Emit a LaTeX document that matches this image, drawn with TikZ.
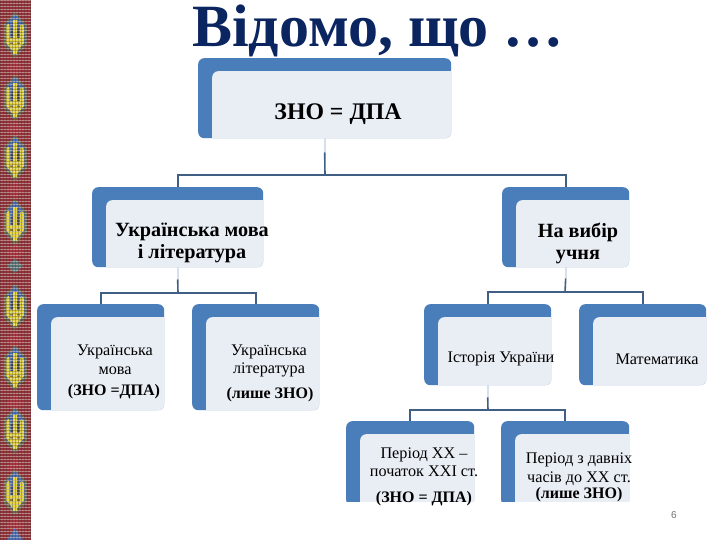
\documentclass[tikz,border=0pt]{standalone}
\usepackage{fontspec}
\setmainfont{Liberation Serif}
\newfontfamily\numfont{Liberation Sans}
\definecolor{cardblue}{HTML}{4A7EBB}
\definecolor{cardpale}{HTML}{E9EDF4}
\definecolor{linkdark}{HTML}{3F5F85}
\definecolor{linkpale}{HTML}{D5E0EC}
\definecolor{titleblue}{HTML}{0B2560}
\definecolor{stripred}{HTML}{A8343F}
\definecolor{stripdark}{HTML}{3A2A2A}
\definecolor{stripgreen}{HTML}{5E7A55}
\definecolor{stripcream}{HTML}{EADFD2}
\definecolor{tridentblue}{HTML}{4A6FB5}
\definecolor{tridentyellow}{HTML}{E6D83C}
\tikzset{
  cardbox/.style={rectangle,draw=none,fill=cardblue,rounded corners=6pt,inner sep=0pt,anchor=north west,
    path picture={\fill[cardpale,rounded corners=6pt]
      ([xshift=14pt,yshift=-13pt]path picture bounding box.north west) rectangle
      ([xshift=20pt,yshift=-20pt]path picture bounding box.south east);}},
  plaintext/.style={align=center,font=\fontsize{16.2}{18.5}\selectfont,text=black,inner sep=0pt},
  boldtext/.style={align=center,font=\fontsize{16}{18}\selectfont\bfseries,text=black,inner sep=0pt},
  headtext/.style={align=center,font=\fontsize{20.2}{22}\selectfont\bfseries,text=black,inner sep=0pt},
  link/.style={draw=linkdark,line width=1.6pt},
  stem/.style={draw=linkpale,line width=1.6pt}
}
\newcommand{\trident}[1]{%
  \begin{scope}[shift={(15,#1)}]
    \fill[stripgreen,opacity=.75] (0,-23) -- (12,-10) -- (12,10) -- (0,23) -- (-12,10) -- (-12,-10) -- cycle;
    \fill[tridentblue] (0,-21) -- (10,-9) -- (10,8) -- (0,19) -- (-10,8) -- (-10,-9) -- cycle;
    % three prongs
    \fill[tridentyellow] (-1.6,-15) rectangle (1.6,19);
    \fill[tridentyellow] (-9,-9) -- (-6.5,-11) -- (-5,-9) -- (-5,6) -- (-9,6) -- cycle;
    \fill[tridentyellow] (9,-9) -- (6.5,-11) -- (5,-9) -- (5,6) -- (9,6) -- cycle;
    \fill[tridentyellow] (-9,3) -- (9,3) -- (9,8) -- (1.5,17) -- (-1.5,17) -- (-9,8) -- cycle;
    \fill[stripdark,opacity=.55] (-3.6,-6) rectangle (-2.4,3);
    \fill[stripdark,opacity=.55] (2.4,-6) rectangle (3.6,3);
    \fill[stripdark,opacity=.55] (-5,7) rectangle (-2,9);
    \fill[stripdark,opacity=.55] (2,7) rectangle (5,9);
    \foreach \yy in {-12,-9,...,15} {\fill[stripdark,opacity=.25] (-10,\yy) rectangle (10,\yy+.7);}
  \end{scope}}
\begin{document}
\begin{tikzpicture}[x=1pt,y=-1pt]
\useasboundingbox (0,0) rectangle (720,540);
\fill[white] (0,0) rectangle (720,540);
% woven strip
\fill[stripred!80!stripdark] (0,0) rectangle (31,540);
\foreach \c in {68,130,190,252,340,403,467,526} {\fill[stripred] (15,\c-9) -- (24,\c) -- (15,\c+9) -- (6,\c) -- cycle;}
\fill[stripgreen!60!tridentblue] (15,259) -- (23,266) -- (15,273) -- (7,266) -- cycle;
\foreach \t in {35,98,158,222,307,368,430,492} {\trident{\t}}
\fill[tridentblue] (15,528) -- (23,540) -- (7,540) -- cycle;
\foreach \i in {0,3,...,537} {\fill[stripcream,opacity=.5] (0,\i) rectangle (31,\i+1.3);}
\foreach \i in {0,3,...,30} {\fill[stripdark,opacity=.28] (\i,0) rectangle (\i+1.3,540);}
% title
\node (title) [font=\fontsize{60}{60}\selectfont\bfseries,text=titleblue,inner sep=0pt,anchor=base] at (378,47) {Відомо, що …};
% cards
\node (top)  [cardbox,minimum width=253pt,minimum height=80pt] at (198,58) {};
\node (ul)   [cardbox,minimum width=171pt,minimum height=80pt] at (92,187) {};
\node (ch)   [cardbox,minimum width=127pt,minimum height=80pt] at (502,187) {};
\node (um)   [cardbox,minimum width=127pt,minimum height=106pt] at (37,304) {};
\node (ll)   [cardbox,minimum width=127pt,minimum height=106pt] at (192,304) {};
\node (hist) [cardbox,minimum width=127pt,minimum height=81pt] at (424,304) {};
\node (math) [cardbox,minimum width=127pt,minimum height=81pt] at (579,304) {};
\node (p1)   [cardbox,minimum width=128pt,minimum height=85pt] at (346,421) {};
\node (p2)   [cardbox,minimum width=128pt,minimum height=85pt] at (501,421) {};
% crop the square bottoms of the two lowest cards
\fill[white] (340,502) rectangle (640,510);
% texts
\node (ttop) [headtext,font=\fontsize{23.8}{25}\selectfont\bfseries] at (338,114) {ЗНО = ДПА};
\node (tul) [headtext] at (192,243) {Українська мова\\і література};
\node (tch) [headtext] at (578,243) {На вибір\\учня};
\node (tum) [plaintext] at (115,360) {Українська\\мова};
\node (tum2) [boldtext] at (114,392) {(ЗНО =ДПА)};
\node (tll) [plaintext] at (269,361) {Українська\\література};
\node (tll2) [boldtext] at (270,395) {(лише ЗНО)};
\node (this) [plaintext] at (501,359) {Історія України};
\node (tmat) [plaintext] at (657,359) {Математика};
\node (tp1) [plaintext] at (424,462) {Період ХХ –\\початок ХХІ ст.};
\node (tp1b) [boldtext] at (424,499) {(ЗНО = ДПА)};
\node (tp2) [plaintext] at (579,469) {Період з давніх\\часів до ХХ ст.};
\node (tp2b) [boldtext] at (579,495) {(лише ЗНО)};
\node (pageno) [font=\numfont\fontsize{10}{12}\selectfont,text=black!55,inner sep=0pt] at (674,515) {6};
% connectors
\coordinate (j1) at (325,175);
\coordinate (j2) at (178,293);
\coordinate (j3) at (565,292);
\coordinate (j4) at (488,410);
\draw[stem] (top.south) -- ++(0,14) coordinate (s1);
\draw[link] (s1) -- (j1);
\draw[link] (ul.north) |- (j1) -| (ch.north);
\draw[stem] (ul.south) -- ++(0,12) coordinate (s2);
\draw[link] (s2) -- (j2);
\draw[link] (um.north) |- (j2) -| (ll.north);
\draw[stem] (ch.south) -- ++(0,11) coordinate (s3);
\draw[link] (s3) -- (j3);
\draw[link] (hist.north) |- (j3) -| (math.north);
\draw[stem] (hist.south) -- ++(0,12) coordinate (s4);
\draw[link] (s4) -- (j4);
\draw[link] (p1.north) |- (j4) -| (p2.north);
\end{tikzpicture}
\end{document}
